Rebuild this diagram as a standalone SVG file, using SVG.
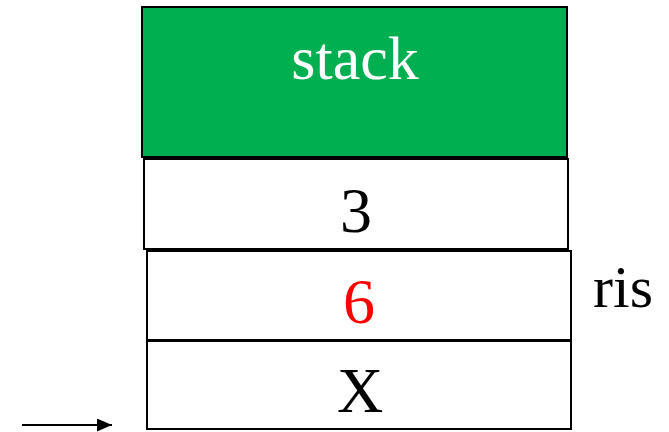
<svg xmlns="http://www.w3.org/2000/svg" width="669" height="432" viewBox="0 0 669 432">
<style>
.box{fill:#ffffff;stroke:#000000;stroke-width:2}
.t{font-family:"Liberation Serif","Times New Roman",serif;text-anchor:middle}
</style>
<defs>
<marker id="ah" markerWidth="15" markerHeight="13" refX="15" refY="6.5" orient="auto" markerUnits="userSpaceOnUse">
<path d="M0,0 L15,6.5 L0,13 z" fill="#000"/>
</marker>
</defs>
<rect width="669" height="432" fill="#fff"/>
<g id="stack">
<rect x="142" y="7" width="425" height="150" fill="#00af50" stroke="#000" stroke-width="2"/>
<text class="t" x="355" y="79" font-size="62" fill="#fff">stack</text>
</g>
<g id="cell3">
<rect class="box" x="144" y="159" width="424" height="90"/>
<text class="t" x="356" y="232" font-size="64" fill="#000">3</text>
</g>
<g id="cell6">
<rect class="box" x="147" y="251" width="424" height="89"/>
<text class="t" x="359" y="323" font-size="64" fill="#ff0000">6</text>
</g>
<g id="cellX">
<rect class="box" x="147" y="341" width="424" height="88"/>
<text class="t" x="360" y="412" font-size="64" fill="#000">X</text>
</g>
<g id="ris">
<text x="593" y="307" font-family="'Liberation Serif','Times New Roman',serif" font-size="60" fill="#000">ris</text>
</g>
<g id="connectors">
<line x1="22" y1="425" x2="112" y2="425" stroke="#000" stroke-width="2" marker-end="url(#ah)"/>
</g>
</svg>
